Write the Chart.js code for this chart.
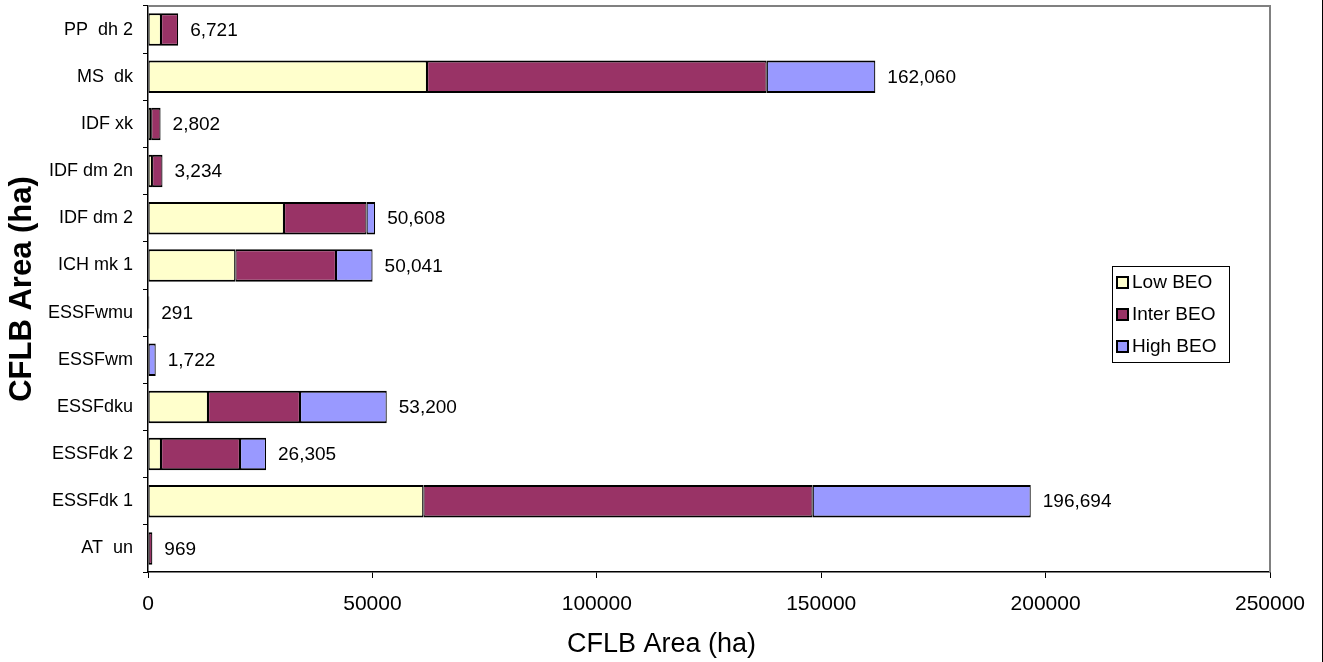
<!DOCTYPE html>
<html>
<head>
<meta charset="utf-8">
<script src="https://cdn.jsdelivr.net/npm/chart.js@4.4.1/dist/chart.umd.min.js"></script>
<style>
  html, body { margin: 0; padding: 0; background: #ffffff; }
  #wrap { width: 1323px; height: 662px; position: relative; }
  canvas { display: block; }
</style>
</head>
<body>
<div id="wrap"><canvas id="c" width="1323" height="662"></canvas></div>
<script>
// Biogeoclimatic variants, listed top to bottom
const categories = ['PP  dh 2', 'MS  dk', 'IDF xk', 'IDF dm 2n', 'IDF dm 2', 'ICH mk 1',
                    'ESSFwmu', 'ESSFwm', 'ESSFdku', 'ESSFdk 2', 'ESSFdk 1', 'AT  un'];

// CFLB area (ha) by BEO class
const lowBEO   = [2900, 62170, 700, 900, 30300, 19460, null, null, 13370, 2900, 61350, null];
const interBEO = [3821, 75690, 2102, 2334, 18400, 22430, 291, null, 20500, 17600, 86750, 969];
const highBEO  = [null, 24200, null, null, 1908, 8151, null, 1722, 19330, 5805, 48594, null];

const seriesNames = ['Low BEO', 'Inter BEO', 'High BEO'];
const xTicks = [0, 50000, 100000, 150000, 200000, 250000];
const xAxisTitle = 'CFLB Area (ha)';
const yAxisTitle = 'CFLB Area (ha)';

const FONT = '"Liberation Sans", Arial, sans-serif';
const colors = ['#FFFFCC', '#993366', '#9999FF'];

const totals = categories.map((_, i) =>
  (lowBEO[i] || 0) + (interBEO[i] || 0) + (highBEO[i] || 0));

// Total area printed after each bar
const totalLabels = {
  id: 'totalLabels',
  afterDatasetsDraw(chart) {
    const { ctx, scales: { x, y } } = chart;
    ctx.save();
    ctx.font = '19px ' + FONT;
    ctx.fillStyle = '#000';
    ctx.textAlign = 'left';
    ctx.textBaseline = 'middle';
    totals.forEach((t, i) => {
      const px = x.getPixelForValue(t);
      const py = y.getPixelForValue(i);
      ctx.fillText(t.toLocaleString('en-US'), px + 12, py + 1);
    });
    ctx.restore();
  }
};

// Grey frame on the top and right of the plot, the outer edge line and the x title
const frame = {
  id: 'frame',
  beforeDatasetsDraw(chart) {
    const { ctx, chartArea: a } = chart;
    ctx.save();
    ctx.strokeStyle = '#808080';
    ctx.lineWidth = 2;
    ctx.beginPath();
    ctx.moveTo(a.left, a.top);
    ctx.lineTo(a.right, a.top);
    ctx.lineTo(a.right, a.bottom);
    ctx.stroke();
    ctx.strokeStyle = '#000';
    ctx.lineWidth = 1;
    ctx.beginPath();
    ctx.moveTo(1322.5, 0);
    ctx.lineTo(1322.5, 662);
    ctx.stroke();
    ctx.font = '27px ' + FONT;
    ctx.fillStyle = '#000';
    ctx.textAlign = 'center';
    ctx.textBaseline = 'middle';
    ctx.fillText(xAxisTitle, chart.width / 2, 645);
    ctx.restore();
  }
};

// Boxed legend inside the plot
const boxLegend = {
  id: 'boxLegend',
  afterDraw(chart) {
    const { ctx } = chart;
    const bx = 1112, by = 266, bw = 117, bh = 96;
    ctx.save();
    ctx.fillStyle = '#fff';
    ctx.fillRect(bx, by, bw, bh);
    ctx.strokeStyle = '#000';
    ctx.lineWidth = 1;
    ctx.strokeRect(bx + 0.5, by + 0.5, bw, bh);
    ctx.font = '19px ' + FONT;
    ctx.textBaseline = 'middle';
    ctx.textAlign = 'left';
    chart.data.datasets.forEach((ds, i) => {
      const cy = by + 16 + i * 32;
      ctx.fillStyle = ds.backgroundColor;
      ctx.fillRect(bx + 5, cy - 5, 11, 11);
      ctx.lineWidth = 2;
      ctx.strokeRect(bx + 5, cy - 5, 11, 11);
      ctx.fillStyle = '#000';
      ctx.fillText(ds.label, bx + 20, cy + 1);
    });
    ctx.restore();
  }
};

const datasets = [lowBEO, interBEO, highBEO].map((d, i) => ({
  label: seriesNames[i],
  data: d,
  backgroundColor: colors[i],
  borderColor: '#000',
  borderWidth: { top: 2, bottom: 2, left: 1.2, right: 1.2 },
  borderSkipped: false,
  barPercentage: 0.69,
  categoryPercentage: 1.0
}));

new Chart(document.getElementById('c'), {
  type: 'bar',
  data: { labels: categories, datasets },
  options: {
    indexAxis: 'y',
    responsive: false,
    animation: false,
    layout: { padding: { top: 6, right: 53, left: 0, bottom: 0 } },
    plugins: {
      legend: { display: false },
      tooltip: { enabled: false }
    },
    scales: {
      x: {
        stacked: true,
        min: 0,
        max: 250000,
        afterBuildTicks(scale) { scale.ticks = xTicks.map(v => ({ value: v })); },
        ticks: {
          color: '#000',
          font: { family: FONT, size: 21 },
          padding: 14,
          maxRotation: 0,
          callback: v => String(v)
        },
        grid: { drawOnChartArea: false, drawTicks: true, tickLength: 6, color: '#000', lineWidth: 1 },
        border: { display: true, color: '#000', width: 1.5 },
        afterFit(scale) { scale.height = 90; scale.paddingLeft = 0; scale.paddingRight = 0; }
      },
      y: {
        stacked: true,
        ticks: {
          color: '#000',
          font: { family: FONT, size: 18 },
          padding: 10
        },
        grid: { drawOnChartArea: false, drawTicks: true, tickLength: 5, color: '#000', lineWidth: 1, offset: true },
        border: { display: true, color: '#000', width: 1.5 },
        title: {
          display: true,
          text: yAxisTitle,
          color: '#000',
          font: { family: FONT, size: 31, weight: 'bold' },
          padding: { top: 4, bottom: 0 }
        },
        afterFit(scale) { scale.width = 148; scale.paddingTop = 0; scale.paddingBottom = 0; }
      }
    }
  },
  plugins: [frame, totalLabels, boxLegend]
});
</script>
</body>
</html>
